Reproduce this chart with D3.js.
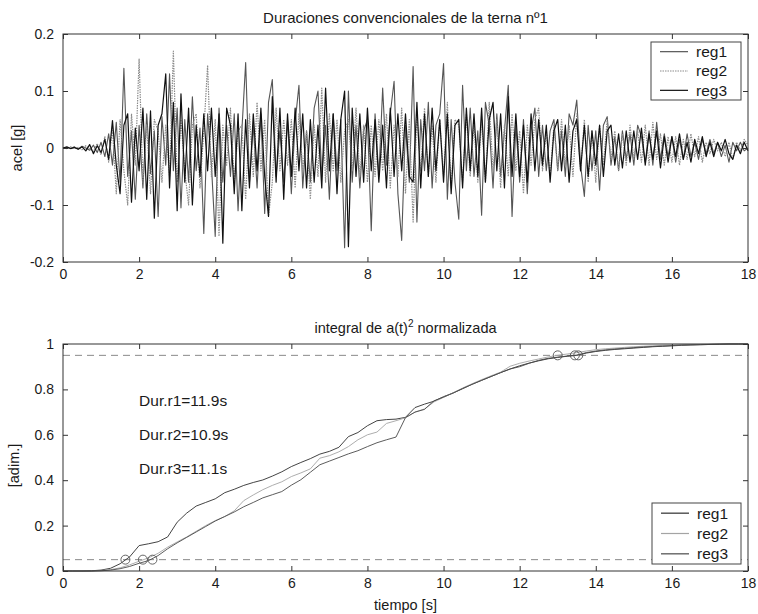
<!DOCTYPE html>
<html lang="es">
<head>
<meta charset="UTF-8">
<title>Duraciones convencionales de la terna nº1</title>
<script src="https://cdn.jsdelivr.net/npm/d3@7/dist/d3.min.js"></script>
<style>
    body {
        margin: 0;
        background: #fff;
    }
    svg text {
        font-family: "Liberation Sans", Arial, sans-serif;
        fill: #1a1a1a;
    }
    .tick text {
        font-size: 14px;
        font-family: "Liberation Sans", Arial, sans-serif;
    }
    .tick line {
        stroke: #333;
    }
</style>
</head>
<body>
<script>
    // accelerograms of the three records, in thousandths of g, one value every 0.1 s
    const accStep = 0.1
    const reg1Acc = [
        0, 1, -1, 2, -2, 3, 0, -4, 5, -8,
        10, -15, 25, -30, 45, -60, 140, -50, 30, -90,
        40, -70, 60, -45, 30, -120, 55, -30, 130, -40,
        70, -105, 50, -60, 90, -40, 35, -150, 60, -30,
        -155, 70, -60, 40, -50, 60, -110, 30, 150, -60,
        40, -70, 60, -115, 80, 120, -50, 30, -60, 50,
        -80, 45, 110, -70, 30, -60, 70, 100, -50, 40,
        -90, 60, -40, 50, -175, 100, -60, 40, -70, 30,
        50, -145, 60, -50, 105, -30, 60, 117, -80, -162,
        40, -60, 143, -130, 50, -40, 80, -70, 40, 60,
        148, -90, 50, -60, -125, 110, -40, 70, -50, 30,
        -118, 80, 40, -70, 60, -50, 30, 110, -120, 40,
        -60, 50, -80, 30, 70, -50, 40, -40, 30, 50,
        -40, 30, -50, 60, 40, 84, -30, -85, 40, -40,
        30, -74, 40, 55, -30, 20, -40, 30, -20, 25,
        -30, 40, 20, -25, 30, -30, 45, -20, 25, -15,
        20, -25, 15, -20, 25, -15, 10, -20, 15, -10,
        15, -10, 10, -15, 5, -25, 10, -5, 10, -5,
        0]
    const reg2Acc = [
        0, -1, 2, -1, 1, -3, 4, -2, -6, 8,
        -12, 20, -25, 35, -80, 50, -40, -100, 60, -30,
        156, -60, 40, -80, 50, 30, -60, 40, -50, 170,
        -60, 50, -40, -100, 40, 60, -70, 30, 145, -50,
        50, -155, 40, -30, 70, -60, 30, 40, -90, 60,
        -50, 80, -40, 50, -120, -60, 70, -40, 50, -30,
        50, -70, 60, -40, 30, -90, 40, -50, 105, -60,
        60, -40, 50, -60, 30, 50, -40, 70, -50, 40,
        -60, 40, -50, 50, -40, 60, -70, 40, -50, 70,
        -80, 50, -130, 60, -40, 70, -50, 40, -60, 50,
        -50, 80, -70, 50, 40, -60, 60, -50, 40, -60,
        50, -60, 80, -40, 50, -70, 40, -50, 60, -40,
        30, -80, 40, -30, 50, 70, -40, 30, -50, 40,
        -40, 50, -30, 40, -50, 60, -40, 50, -60, 30,
        -60, 40, -30, 50, -20, 30, -40, 25, -30, 40,
        -20, 30, -25, 40, -30, 45, -20, 25, -30, 20,
        -25, 20, -30, 15, -20, 25, -15, 20, -25, 10,
        -10, 15, -5, 10, -15, 10, -20, 10, -5, 15,
        5]
    const reg3Acc = [
        0, 2, -1, 1, -2, 2, -5, 6, -10, 4,
        -8, 15, -20, 48, -30, -80, 40, 60, -95, 35,
        -40, 70, -90, 65, -123, 40, 60, 130, -70, 80,
        -110, 95, -60, 70, -100, 40, -50, 60, -40, 70,
        -50, 60, -167, 70, 40, -80, 60, -110, 50, -70,
        60, -40, 70, -50, -120, 90, -60, 70, -90, 60,
        -50, 70, -40, 60, -70, 50, -60, 40, -70, 105,
        -40, 60, -80, 50, 100, -173, 70, -50, 60, -60,
        70, -40, 50, -60, 40, -70, 70, -50, 60, -40,
        60, -50, -60, 80, -70, 60, -50, 70, -40, 50,
        -60, 60, -80, 40, 50, -70, 70, -40, 60, -50,
        70, -60, 50, 80, -40, 60, -70, 90, -50, 60,
        -50, 40, -60, 60, -40, 50, -30, 40, -60, 30,
        50, -40, 40, -60, 30, 50, -40, 40, -50, 30,
        -30, 40, -50, 30, 40, -30, 25, -35, 30, -25,
        30, -20, 35, -30, 25, -20, 30, -35, 20, -25,
        20, -15, 25, -20, 10, -25, 15, -10, 20, -15,
        10, -15, 10, -5, 15, -10, -20, 5, -10, 10,
        -5]

    // normalized integral of a(t)^2, one value every 0.25 s
    const ariasStep = 0.25
    const reg1Arias = [0, 0, 0, 0.001, 0.004, 0.012, 0.032, 0.062, 0.112, 0.12,
        0.129, 0.15, 0.215, 0.255, 0.286, 0.302, 0.318, 0.345, 0.36, 0.377,
        0.39, 0.401, 0.418, 0.437, 0.46, 0.478, 0.495, 0.515, 0.527, 0.545,
        0.592, 0.61, 0.64, 0.662, 0.667, 0.669, 0.677, 0.72, 0.735, 0.748,
        0.768, 0.784, 0.803, 0.823, 0.84, 0.857, 0.874, 0.89, 0.904, 0.916,
        0.926, 0.935, 0.941, 0.946, 0.95, 0.96, 0.967, 0.972, 0.976, 0.979,
        0.982, 0.985, 0.988, 0.99, 0.992, 0.994, 0.996, 0.997, 0.998, 0.999,
        1, 1, 1]
    const reg2Arias = [0, 0, 0, 0, 0.002, 0.006, 0.014, 0.027, 0.043, 0.058,
        0.078, 0.105, 0.128, 0.15, 0.175, 0.2, 0.222, 0.24, 0.265, 0.31,
        0.335, 0.358, 0.377, 0.393, 0.416, 0.432, 0.45, 0.497, 0.508, 0.525,
        0.548, 0.578, 0.6, 0.612, 0.65, 0.662, 0.675, 0.7, 0.714, 0.745,
        0.765, 0.785, 0.806, 0.825, 0.843, 0.86, 0.876, 0.902, 0.915, 0.925,
        0.934, 0.943, 0.95, 0.956, 0.962, 0.969, 0.975, 0.979, 0.982, 0.985,
        0.988, 0.99, 0.992, 0.994, 0.995, 0.996, 0.997, 0.998, 0.999, 0.999,
        1, 1, 1]
    const reg3Arias = [0, 0, 0, 0, 0.001, 0.004, 0.01, 0.02, 0.034, 0.046,
        0.068, 0.098, 0.124, 0.148, 0.172, 0.196, 0.22, 0.24, 0.26, 0.283,
        0.302, 0.322, 0.336, 0.35, 0.378, 0.402, 0.435, 0.468, 0.484, 0.5,
        0.516, 0.53, 0.548, 0.565, 0.578, 0.59, 0.676, 0.7, 0.712, 0.75,
        0.766, 0.784, 0.804, 0.822, 0.84, 0.857, 0.874, 0.89, 0.9, 0.915,
        0.928, 0.937, 0.942, 0.947, 0.951, 0.962, 0.969, 0.974, 0.978, 0.981,
        0.984, 0.987, 0.989, 0.991, 0.993, 0.995, 0.996, 0.997, 0.998, 0.999,
        1, 1, 1]

    // times where each record reaches 5% and 95% of the integral
    const t05 = [1.64, 2.1, 2.35]
    const t95 = [13.54, 13.0, 13.45]
    const limits = [0.05, 0.95]

    const names = ["reg1", "reg2", "reg3"]
    const timeTicks = [0, 2, 4, 6, 8, 10, 12, 14, 16, 18]
    const accTicks = [-0.2, -0.1, 0, 0.1, 0.2]
    const ariasTicks = [0, 0.2, 0.4, 0.6, 0.8, 1]

    let width = 758
    let height = 614
    let svg = d3.select("body").append("svg").attr("width", width).attr("height", height)

    let x = d3.scaleLinear().domain([0, 18]).range([63, 748])
    let yAcc = d3.scaleLinear().domain([-0.2, 0.2]).range([262, 34])
    let yArias = d3.scaleLinear().domain([0, 1]).range([571, 344])
    let xMid = (x.range()[0] + x.range()[1]) / 2

    let accStyles = [
        {color: "#555555", dash: null, width: 1.1},
        {color: "#8c8c8c", dash: "1.5,1", width: 1.2},
        {color: "#111111", dash: null, width: 1.2}
    ]
    let ariasStyles = [
        {color: "#2e2e2e", dash: null, width: 0.9},
        {color: "#a4a4a4", dash: null, width: 0.9},
        {color: "#4a4a4a", dash: null, width: 0.9}
    ]

    function frame(y, yTicks) {
        let g = svg.append("g")
        let top = y.range()[1]
        let bottom = y.range()[0]
        let left = x.range()[0]
        let right = x.range()[1]
        g.append("g").attr("transform", `translate(0,${bottom})`)
            .call(d3.axisBottom(x).tickValues(timeTicks).tickSizeInner(-5).tickSizeOuter(0)
                .tickPadding(7).tickFormat(d => String(d)))
        g.append("g").attr("transform", `translate(0,${top})`)
            .call(d3.axisTop(x).tickValues(timeTicks).tickSizeInner(-5).tickSizeOuter(0).tickFormat(""))
        g.append("g").attr("transform", `translate(${left},0)`)
            .call(d3.axisLeft(y).tickValues(yTicks).tickSizeInner(-5).tickSizeOuter(0)
                .tickPadding(9).tickFormat(d => String(d)))
        g.append("g").attr("transform", `translate(${right},0)`)
            .call(d3.axisRight(y).tickValues(yTicks).tickSizeInner(-5).tickSizeOuter(0).tickFormat(""))
        g.selectAll(".domain").remove()
        g.append("rect")
            .attr("x", left).attr("y", top)
            .attr("width", right - left).attr("height", bottom - top)
            .attr("fill", "none").attr("stroke", "#333")
        return g
    }

    function legend(x0, y0, w, h, styles) {
        let g = svg.append("g")
        g.append("rect").attr("x", x0).attr("y", y0).attr("width", w).attr("height", h)
            .attr("fill", "#fff").attr("stroke", "#444")
        names.forEach((name, i) => {
            let cy = y0 + h * (i + 0.5) / 3
            g.append("line")
                .attr("x1", x0 + 9).attr("x2", x0 + 37).attr("y1", cy).attr("y2", cy)
                .attr("stroke", styles[i].color).attr("stroke-width", 1.2)
                .attr("stroke-dasharray", styles[i].dash)
            g.append("text")
                .attr("x", x0 + 45).attr("y", cy).attr("dy", "0.35em")
                .style("font-size", "15.5px")
                .text(name)
        })
    }

    // ---- top: accelerograms
    let accLine = d3.line()
        .x((d, i) => x(i * accStep))
        .y(d => yAcc(d / 1000))
    ;[reg1Acc, reg2Acc, reg3Acc].forEach((series, i) => {
        svg.append("path")
            .attr("d", accLine(series))
            .attr("fill", "none")
            .attr("stroke", accStyles[i].color)
            .attr("stroke-width", accStyles[i].width)
            .attr("stroke-linejoin", "round")
            .attr("stroke-dasharray", accStyles[i].dash)
    })
    frame(yAcc, accTicks)
    legend(651, 42, 90, 58, accStyles)

    svg.append("text")
        .attr("x", xMid).attr("y", 23).attr("text-anchor", "middle")
        .style("font-size", "15px")
        .text("Duraciones convencionales de la terna nº1")
    svg.append("text")
        .attr("transform", `translate(22,${(yAcc.range()[0] + yAcc.range()[1]) / 2}) rotate(-90)`)
        .attr("text-anchor", "middle")
        .style("font-size", "14.5px")
        .text("acel [g]")

    // ---- bottom: normalized integral
    limits.forEach(v => {
        svg.append("line")
            .attr("x1", x(0)).attr("x2", x(18))
            .attr("y1", yArias(v)).attr("y2", yArias(v))
            .attr("stroke", "#8a8a8a").attr("stroke-width", 1)
            .attr("stroke-dasharray", "7,5")
    })

    let ariasLine = d3.line()
        .x((d, i) => x(i * ariasStep))
        .y(d => yArias(d))
    ;[reg1Arias, reg2Arias, reg3Arias].forEach((series, i) => {
        svg.append("path")
            .attr("d", ariasLine(series))
            .attr("fill", "none")
            .attr("stroke", ariasStyles[i].color)
            .attr("stroke-width", ariasStyles[i].width)
    })

    let marks = []
    names.forEach((n, i) => {
        marks.push([t05[i], limits[0]])
        marks.push([t95[i], limits[1]])
    })
    svg.selectAll(".mark")
        .data(marks)
        .enter()
        .append("circle")
        .attr("class", "mark")
        .attr("cx", d => x(d[0]))
        .attr("cy", d => yArias(d[1]))
        .attr("r", 4.5)
        .attr("fill", "none")
        .attr("stroke", "#555")
        .attr("stroke-width", 0.9)

    let fmt = d3.format(".1f")
    let durY = [0.75, 0.6, 0.45]
    names.forEach((n, i) => {
        svg.append("text")
            .attr("x", x(2)).attr("y", yArias(durY[i])).attr("dy", "0.35em")
            .style("font-size", "15.5px")
            .text(`Dur.r${i + 1}=${fmt(t95[i] - t05[i])}s`)
    })

    frame(yArias, ariasTicks)
    legend(652, 503, 89, 61, ariasStyles)

    let title2 = svg.append("text")
        .attr("x", xMid).attr("y", 333).attr("text-anchor", "middle")
        .style("font-size", "14.5px")
    title2.append("tspan").text("integral de a(t)")
    title2.append("tspan").attr("dy", -6).style("font-size", "10px").text("2")
    title2.append("tspan").attr("dy", 6).text(" normalizada")

    svg.append("text")
        .attr("x", xMid).attr("y", 610).attr("text-anchor", "middle")
        .style("font-size", "14.5px")
        .text("tiempo [s]")
    svg.append("text")
        .attr("transform", `translate(19,${(yArias.range()[0] + yArias.range()[1]) / 2 + 8}) rotate(-90)`)
        .attr("text-anchor", "middle")
        .style("font-size", "14.5px")
        .text("[adim.]")
</script>
</body>
</html>
